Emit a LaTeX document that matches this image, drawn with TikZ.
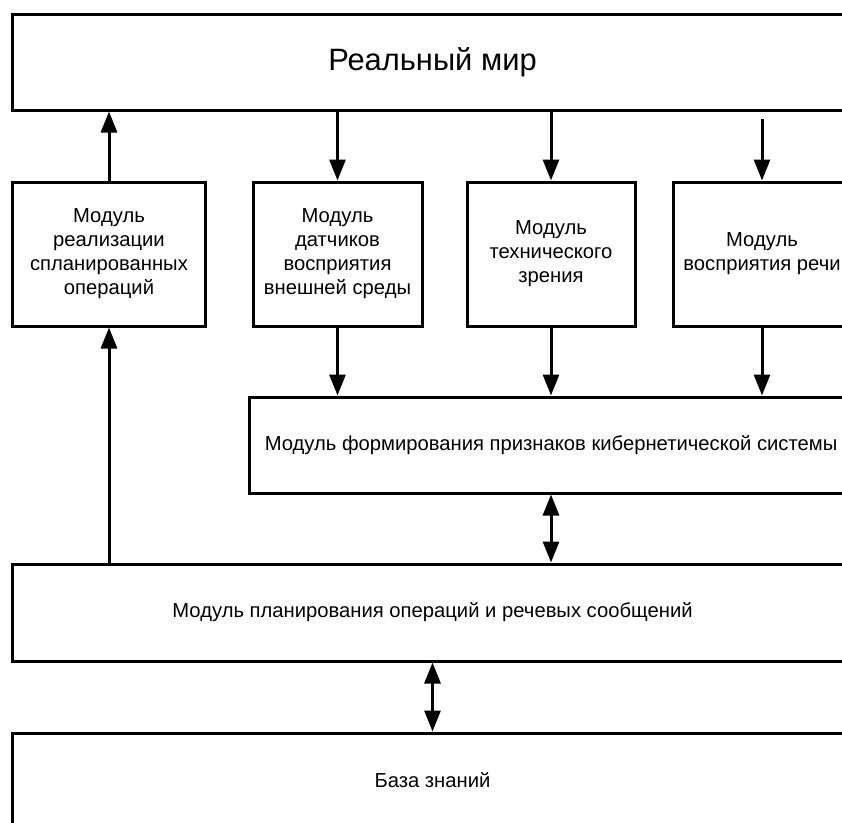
\documentclass[tikz,border=0pt]{standalone}
\usepackage{fontspec}
\setmainfont{Liberation Sans}
\usetikzlibrary{arrows.meta,positioning}

\begin{document}
\begin{tikzpicture}[x=1bp,y=-1bp,
		line width=3bp,
		box/.style={draw,rectangle,inner sep=0pt,align=center,font=\fontsize{20.3}{24}\selectfont},
		flow/.style={-{Triangle[width=16bp,length=21bp]}},
		twoway/.style={{Triangle[width=16bp,length=21bp]}-{Triangle[width=16bp,length=21bp]}}]
		\useasboundingbox (0,0) rectangle (842,823);
		\clip (0,0) rectangle (842,823);
		\node[box,minimum width=839bp,minimum height=95bp,font=\fontsize{31}{37}\selectfont] (world) at (432.5,62.5) {Реальный мир};
		\node[box,minimum width=192bp,minimum height=144bp] (realize) at (109,254) {Модуль\\реализации\\спланированных\\операций};
		\node[box,minimum width=169bp,minimum height=144bp] (sensors) at (337.5,254) {Модуль\\датчиков\\восприятия\\внешней среды};
		\node[box,minimum width=168bp,minimum height=144bp] (vision) at (551,254) {Модуль\\технического\\зрения};
		\node[box,minimum width=178bp,minimum height=144bp] (speech) at (762,254) {Модуль\\восприятия речи};
		\node[box,minimum width=602bp,minimum height=96bp] (features) at (551,445) {Модуль формирования признаков кибернетической системы};
		\node[box,minimum width=839bp,minimum height=97bp] (planner) at (432.5,612.5) {Модуль планирования операций и речевых сообщений};
		\node[box,minimum width=839bp,minimum height=94bp] (kb) at (432.5,780) {База знаний};
		\draw[flow] (realize.north) -- (realize.north |- world.south);
		\draw[flow] (sensors.north |- world.south) -- (sensors.north);
		\draw[flow] (vision.north |- world.south) -- (vision.north);
		\draw[flow,shorten <=7bp] (speech.north |- world.south) -- (speech.north);
		\draw[flow] (sensors.south) -- (sensors.south |- features.north);
		\draw[flow] (vision.south) -- (vision.south |- features.north);
		\draw[flow] (speech.south) -- (speech.south |- features.north);
		\draw[flow] (realize.south |- planner.north) -- (realize.south);
		\draw[twoway] (features.south) -- (features.south |- planner.north);
		\draw[twoway] (planner.south) -- (kb.north);
		\end{tikzpicture}
\end{document}
